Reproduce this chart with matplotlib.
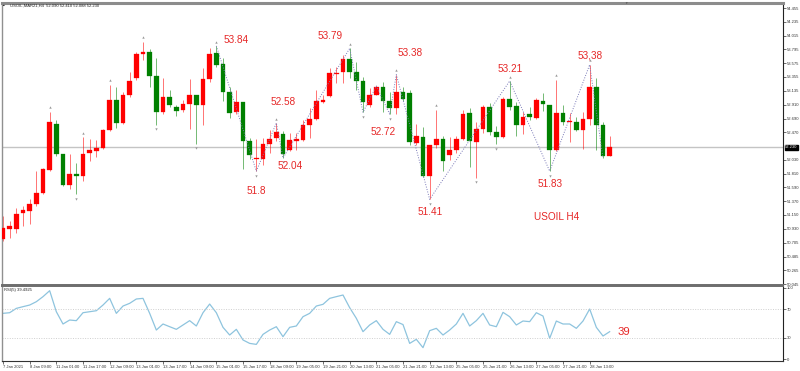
# -*- coding: utf-8 -*-
"""
USOIL H4 candlestick chart with RSI(5) sub-window (MT4 style)
"""

import matplotlib
matplotlib.use('Agg')
import matplotlib.pyplot as plt


#################### Data

opens = [50.76, 50.92, 50.92, 51.18, 51.21, 51.32, 51.50, 51.87, 52.60, 52.12,
         51.63, 51.80, 51.77, 52.14, 52.17, 52.22, 52.50, 52.98, 52.62, 53.07,
         53.33, 53.72, 53.76, 53.37, 52.79, 53.03, 52.87, 52.82, 52.93, 53.06,
         52.91, 53.32, 53.74, 53.56, 53.11, 52.79, 52.95, 52.33, 52.04, 52.04,
         52.28, 52.38, 52.45, 52.18, 52.33, 52.35, 52.59, 52.69, 52.96, 53.05,
         53.40, 53.43, 53.64, 53.44, 53.29, 52.90, 53.07, 53.19, 52.97, 52.86,
         53.11, 53.10, 52.30, 52.39, 51.78, 52.26, 52.36, 52.11, 52.19, 52.37,
         52.78, 52.31, 52.52, 52.87, 52.48, 52.39, 53.00, 52.89, 52.58, 52.77,
         52.70, 52.97, 52.91, 52.18, 52.78, 52.64, 52.64, 52.51, 52.68, 53.19,
         52.59, 52.09]

highs = [51.13, 51.05, 51.26, 51.29, 51.40, 51.86, 51.90, 52.80, 52.67, 52.13,
         52.12, 51.98, 52.39, 52.36, 52.34, 52.52, 53.23, 53.19, 53.12, 53.43,
         53.76, 53.92, 53.80, 53.65, 53.33, 53.14, 52.91, 52.99, 53.32, 53.07,
         53.49, 53.81, 53.85, 53.65, 53.20, 53.15, 52.95, 52.38, 52.37, 52.38,
         52.51, 52.62, 52.49, 52.46, 52.46, 52.67, 52.86, 53.15, 53.07, 53.49,
         53.52, 53.71, 53.81, 53.60, 53.36, 53.18, 53.21, 53.28, 53.12, 53.39,
         53.19, 53.15, 52.60, 52.55, 52.27, 52.83, 52.41, 52.40, 52.41, 52.83,
         52.86, 52.64, 52.91, 52.94, 52.57, 53.03, 53.29, 52.96, 52.80, 52.88,
         53.02, 53.10, 52.91, 53.31, 52.91, 52.78, 52.71, 52.79, 53.55, 53.33,
         52.64, 52.41]

lows = [50.73, 50.79, 50.87, 50.97, 51.00, 51.29, 51.49, 51.85, 52.09, 51.62,
        51.56, 51.48, 51.69, 52.01, 52.07, 52.21, 52.49, 52.54, 52.60, 53.04,
        53.31, 53.63, 53.20, 52.59, 52.76, 52.88, 52.73, 52.79, 52.53, 52.29,
        52.59, 53.28, 53.52, 52.97, 52.70, 52.76, 51.89, 52.05, 51.85, 51.95,
        52.14, 52.33, 52.06, 52.17, 52.19, 52.33, 52.38, 52.67, 52.94, 53.04,
        53.26, 53.26, 53.33, 53.15, 52.79, 52.88, 53.06, 52.80, 52.76, 52.76,
        52.97, 52.27, 52.27, 51.76, 51.40, 52.22, 51.86, 52.03, 52.14, 52.35,
        51.92, 51.74, 52.46, 52.43, 52.28, 52.38, 52.83, 52.41, 52.44, 52.67,
        52.69, 52.81, 51.85, 52.17, 52.59, 52.32, 52.49, 52.21, 52.59, 52.19,
        52.06, 52.09]

closes = [50.95, 50.98, 51.17, 51.23, 51.33, 51.50, 51.89, 52.64, 52.12, 51.63,
          51.81, 51.77, 52.13, 52.18, 52.22, 52.50, 52.99, 52.62, 53.07, 53.29,
          53.72, 53.76, 53.37, 52.79, 53.03, 52.90, 52.81, 52.93, 53.07, 52.91,
          53.32, 53.72, 53.55, 53.11, 52.78, 52.95, 52.33, 52.10, 52.06, 52.28,
          52.37, 52.47, 52.13, 52.34, 52.36, 52.59, 52.69, 52.97, 52.98, 53.41,
          53.42, 53.64, 53.44, 53.29, 52.95, 53.07, 53.20, 52.97, 52.86, 53.11,
          53.01, 52.32, 52.41, 51.78, 52.27, 52.37, 52.02, 52.19, 52.37, 52.76,
          52.33, 52.52, 52.88, 52.48, 52.39, 53.00, 52.88, 52.58, 52.71, 52.71,
          52.99, 52.92, 52.18, 52.78, 52.63, 52.65, 52.50, 52.68, 53.19, 52.59,
          52.09, 52.23]

rsi = [64.3, 65.2, 71.3, 73.7, 76.0, 80.7, 87.8, 96.2, 66.6, 49.3,
       54.9, 54.0, 65.2, 66.6, 68.0, 76.0, 85.4, 64.3, 74.6, 78.4,
       84.5, 85.4, 64.3, 40.8, 49.3, 45.5, 41.8, 47.9, 54.0, 46.5,
       65.2, 77.4, 65.2, 44.6, 33.8, 41.8, 26.8, 22.0, 20.6, 34.7,
       40.8, 45.5, 31.4, 44.6, 46.5, 59.6, 64.3, 74.6, 77.0, 85.4,
       87.8, 90.1, 72.3, 57.3, 38.5, 47.9, 54.0, 41.8, 34.7, 52.6,
       48.5, 22.0, 27.7, 16.0, 39.9, 43.2, 33.8, 40.8, 49.3, 64.3,
       46.5, 54.0, 64.3, 47.9, 45.5, 65.7, 59.6, 47.9, 53.5, 52.6,
       65.2, 60.5, 29.1, 53.5, 49.3, 49.3, 43.2, 53.5, 70.4, 44.6,
       32.4, 38.5]

# time labels, one every 4 bars starting at bar 1
time_labels = ['7 Jan 2021', '8 Jan 09:00', '11 Jan 01:00', '11 Jan 17:00', '12 Jan 09:00',
               '13 Jan 01:00', '13 Jan 17:00', '14 Jan 09:00', '15 Jan 01:00', '15 Jan 17:00',
               '18 Jan 09:00', '19 Jan 05:00', '19 Jan 21:00', '20 Jan 13:00', '21 Jan 05:00',
               '21 Jan 21:00', '22 Jan 13:00', '25 Jan 05:00', '25 Jan 21:00', '26 Jan 13:00',
               '27 Jan 05:00', '27 Jan 21:00', '28 Jan 13:00']

price_ticks = [54.455, 54.235, 54.015, 53.795, 53.575, 53.355, 53.135, 52.910, 52.690,
               52.470, 52.030, 51.810, 51.590, 51.370, 51.150, 50.930, 50.705, 50.485,
               50.265, 50.045]
rsi_ticks = [0, 30, 70, 100]

# fractals (bar numbers) and zigzag turning points
fractal_up = [8, 13, 17, 22, 33, 42, 53, 60, 66, 77, 84, 89]
fractal_down = [12, 24, 30, 39, 43, 55, 59, 65, 72, 75, 83]
zigzag_bars = [33, 39, 42, 43, 53, 55, 57, 59, 60, 65, 77, 83, 89, 91]
zigzag_kind = ['H', 'L', 'H', 'L', 'H', 'L', 'H', 'L', 'H', 'L', 'H', 'L', 'H', 'L']

last_price = 52.230
last_rsi_text = '39'


#################### Plot parameters

W, H = 800, 371
col_up = '#ff0000'
col_dn = '#008000'
col_txt = '#e62828'
col_rsi = '#8ec4de'
col_zz = '#7a7ab8'
small = 3.0
big = 7.2

plt.rcParams['font.family'] = ['Liberation Sans', 'DejaVu Sans']


def fpos(x, y):
    # pixel position -> figure fraction
    return x / W, 1 - y / H


fig = plt.figure(figsize=(W / 100, H / 100), dpi=100)
fig.patch.set_facecolor('white')

ax = fig.add_axes((2 / W, 1 - 284.5 / H, 781 / W, 281.5 / H))
axr = fig.add_axes((2 / W, 1 - 361 / H, 781 / W, 75 / H), sharex=ax)

n = len(closes)
xs = list(range(1, n + 1))


#################### Candles

for i in range(n):
    o, h, l, c = opens[i], highs[i], lows[i], closes[i]
    col = col_up if c > o else col_dn
    ax.vlines(xs[i], l, h, color=col, lw=0.7, alpha=0.55, zorder=2)
    body = max(abs(c - o), 0.018)
    ax.bar(xs[i], body, bottom=min(o, c) - (body - abs(c - o)) / 2,
           width=0.66, color=col, edgecolor=col, lw=0.2, zorder=3)

# current price line
ax.axhline(last_price, color='#c4c4c4', lw=1.0, zorder=1)

# fractal marks
fu_x = [b for b in fractal_up]
fu_y = [highs[b - 1] + 0.07 for b in fractal_up]
fd_x = [b for b in fractal_down]
fd_y = [lows[b - 1] - 0.07 for b in fractal_down]
ax.scatter(fu_x, fu_y, marker='^', s=3, color='#9a9a9a', lw=0, zorder=4)
ax.scatter(fd_x, fd_y, marker='v', s=3, color='#9a9a9a', lw=0, zorder=4)

# zigzag
zz_y = [highs[b - 1] if k == 'H' else lows[b - 1] for b, k in zip(zigzag_bars, zigzag_kind)]
ax.plot(zigzag_bars, zz_y, color=col_zz, lw=0.7, ls=(0, (1, 1.6)), zorder=5)

ax.set_xlim(0.85, 118)
ax.set_ylim(50.04, 54.535)


#################### RSI

axr.plot(xs, rsi, color=col_rsi, lw=0.9)
axr.axhline(70, color='#cfcfcf', lw=0.7, ls=(0, (1, 1.5)))
axr.axhline(30, color='#cfcfcf', lw=0.7, ls=(0, (1, 1.5)))
axr.set_ylim(-2.8, 102.8)


#################### Axes styling

for a in (ax, axr):
    a.set_facecolor('white')
    a.yaxis.tick_right()
    a.tick_params(axis='y', direction='out', length=2, width=0.5, pad=1,
                  labelsize=small, colors='#333333')
    a.spines['left'].set_color('#909090')
    a.spines['left'].set_linewidth(1.0)
    a.spines['right'].set_color('#222222')
    a.spines['right'].set_linewidth(0.8)

ax.set_yticks(price_ticks)
ax.set_yticklabels([f'{v:.3f}' for v in price_ticks])
ax.tick_params(axis='x', bottom=False, labelbottom=False)
ax.spines['top'].set_color('#8c8c8c')
ax.spines['top'].set_linewidth(2.2)
ax.spines['bottom'].set_color('#6e6e6e')
ax.spines['bottom'].set_linewidth(1.4)

axr.set_yticks(rsi_ticks)
axr.set_yticklabels([str(v) for v in rsi_ticks])
axr.spines['top'].set_color('#6e6e6e')
axr.spines['top'].set_linewidth(1.4)
axr.spines['bottom'].set_color('#333333')
axr.spines['bottom'].set_linewidth(0.8)

tick_pos = [xs[k] for k in range(0, n, 4)][:len(time_labels)]
axr.set_xticks(tick_pos)
axr.set_xticklabels(time_labels, ha='left')
axr.tick_params(axis='x', direction='out', length=2, width=0.5, pad=1,
                labelsize=small, colors='#333333')

# last price box on the price scale
ax.text(1.003, last_price, f'{last_price:.3f}', transform=ax.get_yaxis_transform(),
        fontsize=small, color='white', va='center', ha='left',
        bbox=dict(boxstyle='square,pad=0.15', fc='black', ec='black'))


#################### Texts

fig.text(*fpos(3, 5.5), '\u25aa', fontsize=3.5, color='black', va='center')
fig.text(*fpos(10, 5.5), 'USOIL,MAR21,H4  52.090 52.410 52.088 52.230',
         fontsize=small, color='#222222', va='center')
fig.text(*fpos(4, 289.5), 'RSI(5) 39.4925', fontsize=small, color='#222222', va='center')
fig.text(*fpos(626, 2.5), '\u25bc', fontsize=2.5, color='#555555', ha='center', va='center')

notes = [('53.84', 236, 40), ('53.79', 330, 36), ('53.38', 410, 53), ('52.58', 283, 102),
         ('53.21', 510, 69), ('53,38', 590, 55), ('52.72', 383, 132), ('51.8', 256, 191),
         ('52.04', 290, 166), ('51.41', 430, 212), ('51.83', 550, 184), ('USOIL H4', 557, 217)]
for t, x, y in notes:
    fig.text(*fpos(x, y), t, fontsize=big, color=col_txt, ha='center', va='center')

fig.text(*fpos(624, 332), last_rsi_text, fontsize=8.2, color=col_txt, ha='center', va='center')

plt.savefig('out.png', dpi=100)
